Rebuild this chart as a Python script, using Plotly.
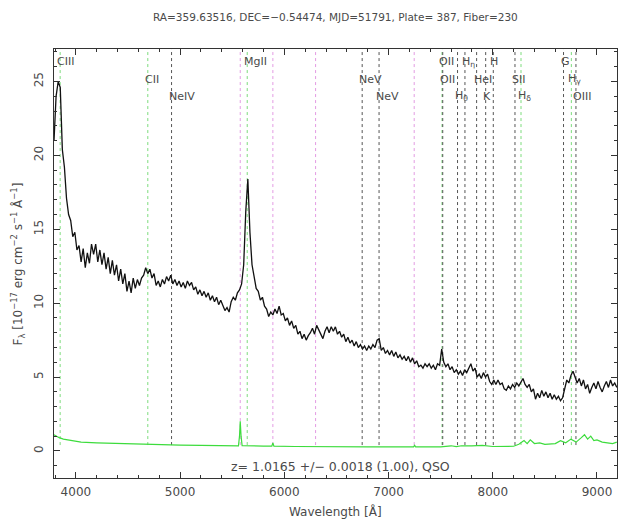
import plotly.graph_objects as go

# ---------------- data ----------------
wave = [3790, 3810, 3830, 3850, 3870, 3890, 3910, 3930, 3950, 3970,
        3990, 4010, 4030, 4050, 4070, 4090, 4110, 4130, 4150, 4170,
        4190, 4210, 4230, 4250, 4270, 4290, 4310, 4330, 4350, 4370,
        4390, 4410, 4430, 4450, 4470, 4490, 4510, 4530, 4550, 4570,
        4590, 4610, 4630, 4650, 4670, 4690, 4710, 4730, 4750, 4770,
        4790, 4810, 4830, 4850, 4870, 4890, 4910, 4930, 4950, 4970,
        4990, 5010, 5030, 5050, 5070, 5090, 5110, 5130, 5150, 5170,
        5190, 5210, 5230, 5250, 5270, 5290, 5310, 5330, 5350, 5370,
        5390, 5410, 5430, 5450, 5470, 5490, 5510, 5530, 5550, 5570,
        5590, 5610, 5630, 5650, 5670, 5690, 5710, 5730, 5750, 5770,
        5790, 5810, 5830, 5850, 5870, 5890, 5910, 5930, 5950, 5970,
        5990, 6010, 6030, 6050, 6070, 6090, 6110, 6130, 6150, 6170,
        6190, 6210, 6230, 6250, 6270, 6290, 6310, 6330, 6350, 6370,
        6390, 6410, 6430, 6450, 6470, 6490, 6510, 6530, 6550, 6570,
        6590, 6610, 6630, 6650, 6670, 6690, 6710, 6730, 6750, 6770,
        6790, 6810, 6830, 6850, 6870, 6890, 6910, 6930, 6950, 6970,
        6990, 7010, 7030, 7050, 7070, 7090, 7110, 7130, 7150, 7170,
        7190, 7210, 7230, 7250, 7270, 7290, 7310, 7330, 7350, 7370,
        7390, 7410, 7430, 7450, 7470, 7490, 7510, 7530, 7550, 7570,
        7590, 7610, 7630, 7650, 7670, 7690, 7710, 7730, 7750, 7770,
        7790, 7810, 7830, 7850, 7870, 7890, 7910, 7930, 7950, 7970,
        7990, 8010, 8030, 8050, 8070, 8090, 8110, 8130, 8150, 8170,
        8190, 8210, 8230, 8250, 8270, 8290, 8310, 8330, 8350, 8370,
        8390, 8410, 8430, 8450, 8470, 8490, 8510, 8530, 8550, 8570,
        8590, 8610, 8630, 8650, 8670, 8690, 8710, 8730, 8750, 8770,
        8790, 8810, 8830, 8850, 8870, 8890, 8910, 8930, 8950, 8970,
        8990, 9010, 9030, 9050, 9070, 9090, 9110, 9130, 9150, 9170,
        9190]

flux = [21.0, 24.0, 25.0, 24.6, 20.4, 19.2, 17.1, 16.0, 15.6, 14.5,
        14.8, 13.6, 13.9, 12.8, 13.7, 12.4, 13.4, 12.7, 14.0, 13.3,
        14.0, 12.8, 13.6, 12.6, 13.4, 12.3, 13.1, 12.0, 12.9, 11.9,
        12.6, 11.5, 12.3, 11.3, 12.0, 10.8, 11.5, 10.7, 11.7, 11.0,
        11.6, 11.2, 11.7, 11.9, 12.4, 12.0, 12.3, 11.7, 12.0, 11.2,
        11.5, 11.1, 11.6, 11.3, 11.8, 11.5, 11.9, 11.3, 11.6, 11.2,
        11.5, 11.1, 11.4, 11.0, 11.5, 11.2, 11.4, 10.9, 11.1, 10.6,
        10.9, 10.5, 10.8, 10.4, 10.7, 10.2, 10.5, 10.1, 10.4, 9.9,
        10.2, 9.8, 9.5, 9.7, 9.4, 10.1, 10.4, 10.2, 10.7, 10.9,
        11.3, 12.6, 16.2, 18.4, 14.8, 12.6, 11.8, 11.0, 10.8, 10.2,
        10.4, 9.8, 9.6, 9.1, 9.4, 9.2, 9.6, 9.3, 9.8, 9.2,
        9.3, 8.8, 9.0, 8.5, 8.8, 8.3, 8.5, 7.9, 8.1, 7.6,
        7.9, 7.5, 7.8, 8.0, 8.3, 7.9, 8.5, 8.2, 7.8, 7.6,
        8.1, 8.4, 8.0, 8.4, 8.1, 8.4, 7.9, 8.1, 7.7, 7.9,
        7.4, 7.7, 7.3, 7.5, 7.1, 7.4, 7.0, 7.2, 6.9, 7.1,
        6.8, 7.1, 6.9, 7.2, 7.0, 7.5, 7.6, 6.8, 7.0, 6.6,
        6.8, 6.5, 6.8, 6.4, 6.7, 6.3, 6.5, 6.2, 6.4, 6.1,
        6.4, 6.0, 6.3, 5.9, 6.1, 5.7, 5.8, 5.6, 5.9, 5.7,
        5.9, 5.6, 5.8, 5.5, 5.9, 5.8, 6.9, 6.0, 5.7, 5.9,
        5.5, 5.7, 5.3, 5.5, 5.2, 5.4, 5.1, 5.5, 5.3, 5.6,
        5.9, 5.4, 5.6, 5.0, 5.2, 4.9, 5.3, 5.0, 5.2, 4.7,
        4.5, 4.8, 4.5, 4.8, 4.5, 4.6, 4.2, 4.1, 4.4, 4.2,
        4.5, 4.3, 4.6, 4.4, 4.7, 4.9, 4.5, 4.3, 4.5, 4.0,
        4.2, 3.5, 3.9, 3.6, 4.1, 3.7, 4.0, 3.6, 3.9, 3.5,
        3.8, 3.5, 3.7, 3.4, 3.6, 4.3, 4.8, 4.6, 5.1, 5.4,
        5.0, 4.6, 4.9, 4.4, 4.8, 4.2, 4.5, 3.9, 4.3, 4.6,
        4.2, 4.7, 4.3, 4.0, 4.4, 4.7, 4.3, 4.8, 4.4, 4.6,
        4.3]

err_wave = [3790, 3810, 3840, 3880, 3950, 4050, 4200, 4400, 4600, 4800, 5000, 5200, 5400,
            5560, 5570, 5577, 5585, 5595, 5800, 5880, 5890, 5900, 6100, 6300, 6500, 6800,
            7000, 7240, 7250, 7260, 7500, 7600, 7650, 7700, 7800, 7900, 8000, 8100, 8200,
            8250, 8300, 8330, 8360, 8400, 8450, 8500, 8600, 8650, 8700, 8750, 8800, 8850,
            8880, 8910, 8940, 8970, 9000, 9050, 9100, 9150, 9190]
err_flux = [1.1, 1.0, 0.9, 0.8, 0.7, 0.6, 0.55, 0.5, 0.45, 0.4, 0.4, 0.38, 0.36,
            0.35, 1.0, 2.0, 1.0, 0.35, 0.33, 0.33, 0.55, 0.33, 0.3, 0.28, 0.28, 0.27,
            0.27, 0.28, 0.38, 0.28, 0.28, 0.35, 0.3, 0.35, 0.35, 0.38, 0.3, 0.3, 0.32,
            0.45, 0.7, 0.5, 0.75, 0.5, 0.55, 0.45, 0.5, 0.7, 0.55, 0.8, 0.6, 0.9,
            1.1, 0.8, 1.0, 0.7, 0.75, 0.6, 0.55, 0.5, 0.6]

line_names = ["CIII", "CII", "NeIV", "MgII", "NeV", "NeV", "OII", "OII", "H<sub>θ</sub>",
              "H<sub>η</sub>", "HeI", "K", "H", "SII", "H<sub>δ</sub>", "G", "H<sub>γ</sub>", "OIII"]
line_waves = [3849, 4690, 4918, 5644, 6747, 6909, 7513, 7520, 7662,
              7733, 7845, 7932, 8005, 8213, 8271, 8679, 8754, 8798]
line_colors = ["green", "green", "black", "green", "black", "black", "green", "black", "black",
               "black", "black", "black", "black", "black", "green", "black", "green", "black"]
line_rows = [1, 2, 3, 1, 2, 3, 1, 2, 3, 1, 2, 3, 1, 2, 3, 1, 2, 3]
sky_waves = [5577, 5890, 6300, 7246]

title_text = "RA=359.63516, DEC=−0.54474, MJD=51791, Plate= 387, Fiber=230"
z_text = "z= 1.0165 +/− 0.0018 (1.00), QSO"

# ---------------- figure ----------------
XMIN, XMAX = 3790, 9192
YMIN, YMAX = -1.83, 27.2
TXT = "#4a4a4a"
FONT = "DejaVu Sans"
col_map = {"green": "#7ddc7d", "black": "#555555", "magenta": "#e39be3"}

fig = go.Figure()

shapes = []
for w in sky_waves:
    shapes.append(dict(type="line", xref="x", yref="y", x0=w, x1=w, y0=0.4, y1=YMAX,
                       layer="below",
                       line=dict(color=col_map["magenta"], width=1, dash="dot")))
for w, c in zip(line_waves, line_colors):
    shapes.append(dict(type="line", xref="x", yref="y", x0=w, x1=w, y0=0.4, y1=YMAX,
                       layer="below",
                       line=dict(color=col_map[c], width=1, dash="dot")))

fig.add_trace(go.Scatter(x=err_wave, y=err_flux, mode="lines",
                         line=dict(color="#3ddc3d", width=1.2), hoverinfo="skip"))
fig.add_trace(go.Scatter(x=wave, y=flux, mode="lines",
                         line=dict(color="#111111", width=1.3), hoverinfo="skip"))

row_y = {1: 0.970, 2: 0.930, 3: 0.890}
annotations = []
for n, w, r in zip(line_names, line_waves, line_rows):
    annotations.append(dict(x=w, y=row_y[r], xref="x", yref="paper", text=n,
                            showarrow=False, xanchor="left", yanchor="middle", xshift=-5,
                            font=dict(family=FONT, size=11, color=TXT)))
annotations.append(dict(x=0.5, y=1.0746, xref="paper", yref="paper", text=title_text,
                        showarrow=False, xanchor="center", yanchor="middle",
                        font=dict(family=FONT, size=10.5, color=TXT)))
annotations.append(dict(x=0.508, y=0.026, xref="paper", yref="paper", text=z_text,
                        showarrow=False, xanchor="center", yanchor="middle",
                        font=dict(family=FONT, size=12.5, color=TXT)))
annotations.append(dict(x=0.50, y=-0.079, xref="paper", yref="paper", text="Wavelength [Å]",
                        showarrow=False, xanchor="center", yanchor="middle",
                        font=dict(family=FONT, size=12, color=TXT)))
annotations.append(dict(x=-0.064, y=0.5, xref="paper", yref="paper", textangle=-90,
                        text="F<sub>λ</sub> [10<sup>−17</sup> erg cm<sup>−2</sup> s<sup>−1</sup> Å<sup>−1</sup>]",
                        showarrow=False, xanchor="center", yanchor="middle",
                        font=dict(family=FONT, size=12, color=TXT)))

axis_common = dict(showline=True, linecolor="#333333", linewidth=1, mirror="allticks",
                   ticks="inside", tickcolor="#333333", showgrid=False, zeroline=False,
                   tickfont=dict(family=FONT, size=12, color=TXT))

fig.update_layout(
    width=619, height=526, paper_bgcolor="white", plot_bgcolor="white",
    margin=dict(l=54, r=2, t=49, b=48), showlegend=False,
    shapes=shapes, annotations=annotations,
    xaxis=dict(range=[XMIN, XMAX], tickvals=[4000, 5000, 6000, 7000, 8000, 9000],
               ticklen=6, minor=dict(dtick=200, tick0=4000, ticklen=3, ticks="inside",
                                     tickcolor="#333333"),
               ticklabelstandoff=3, **axis_common),
    yaxis=dict(range=[YMIN, YMAX], tickvals=[0, 5, 10, 15, 20, 25], tickangle=-90,
               ticklen=6, minor=dict(dtick=1, tick0=0, ticklen=3, ticks="inside",
                                     tickcolor="#333333"),
               ticklabelstandoff=5, **axis_common),
)

fig.write_html("out.html", config={"displayModeBar": False},
               post_script="document.body.style.margin='0px';")
